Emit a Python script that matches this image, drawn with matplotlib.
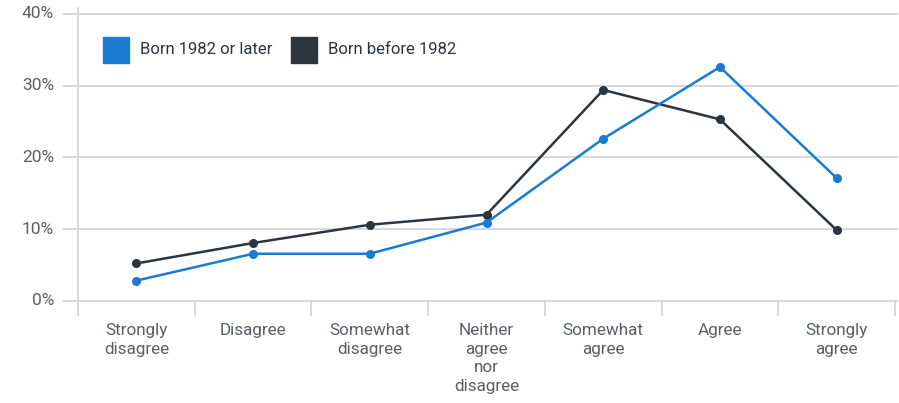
import matplotlib.pyplot as plt
from matplotlib.patches import Rectangle

categories = ['Strongly\ndisagree', 'Disagree', 'Somewhat\ndisagree',
              'Neither\nagree\nnor\ndisagree', 'Somewhat\nagree', 'Agree',
              'Strongly\nagree']
born_1982_or_later = [2.8, 6.55, 6.55, 10.9, 22.6, 32.6, 17.1]
born_before_1982 = [5.2, 8.05, 10.6, 12.0, 29.4, 25.3, 9.85]
y_ticks = [0, 10, 20, 30, 40]

blue = '#1a7bd3'
dark = '#2b3540'
grid_c = '#d6d6d6'
text_c = '#5a5f64'

plt.rcParams['font.family'] = ['Roboto', 'DejaVu Sans']

fig = plt.figure(figsize=(8.99, 4.03), dpi=100)
W, H = 899, 403
x0, x1 = 78, 895
y0, y40 = 300.7, 14
ax = fig.add_axes([x0 / W, 1 - y0 / H, (x1 - x0) / W, (y0 - y40) / H])
ax.set_xlim(-0.5, len(categories) - 0.5)
ax.set_ylim(0, 40)
for s in ax.spines.values():
    s.set_visible(False)
ax.set_xticks([])
ax.set_yticks([])

# horizontal gridlines, extending a bit left of the axis line
left_ext = -(x0 - 64) / (x1 - x0)
right_ext = 1 + 2 / (x1 - x0)
ytr = ax.get_yaxis_transform()
for v in y_ticks:
    ax.plot([left_ext, right_ext], [v, v], color=grid_c, lw=1.3,
            transform=ytr, clip_on=False, zorder=1)
    ax.text(-(x0 - 54) / (x1 - x0), v, f'{v}%', transform=ytr,
            ha='right', va='center', fontsize=12.5, color=text_c)

# vertical axis line and category ticks
xtr = ax.get_xaxis_transform()
ppy = 1 / (y0 - y40)
ax.plot([-0.5, -0.5], [-14 * ppy, 1 + 6 * ppy], color=grid_c, lw=1.3,
        transform=xtr, clip_on=False)
for k in range(len(categories) + 1):
    ax.plot([k - 0.5, k - 0.5], [0, -14 * ppy], color=grid_c, lw=1.3,
            transform=xtr, clip_on=False)

for i, lab in enumerate(categories):
    ax.text(i, -22 * ppy, lab, transform=xtr, ha='center', va='top',
            fontsize=12.3, color=text_c, linespacing=1.32)

xs = range(len(categories))
ax.plot(xs, born_before_1982, color=dark, lw=1.8, marker='o', ms=5.5,
        clip_on=False, zorder=3)
ax.plot(xs, born_1982_or_later, color=blue, lw=1.8, marker='o', ms=5.5,
        clip_on=False, zorder=4)

# legend
fig.patches.append(Rectangle((103 / W, 1 - 63 / H), 26 / W, 26 / H,
                             color=blue, transform=fig.transFigure))
fig.text(140 / W, 1 - 50 / H, 'Born 1982 or later', ha='left', va='center',
         fontsize=12, color=dark)
fig.patches.append(Rectangle((291 / W, 1 - 63 / H), 26 / W, 26 / H,
                             color=dark, transform=fig.transFigure))
fig.text(328 / W, 1 - 50 / H, 'Born before 1982', ha='left', va='center',
         fontsize=12, color=dark)

fig.savefig('out.png', dpi=100)
